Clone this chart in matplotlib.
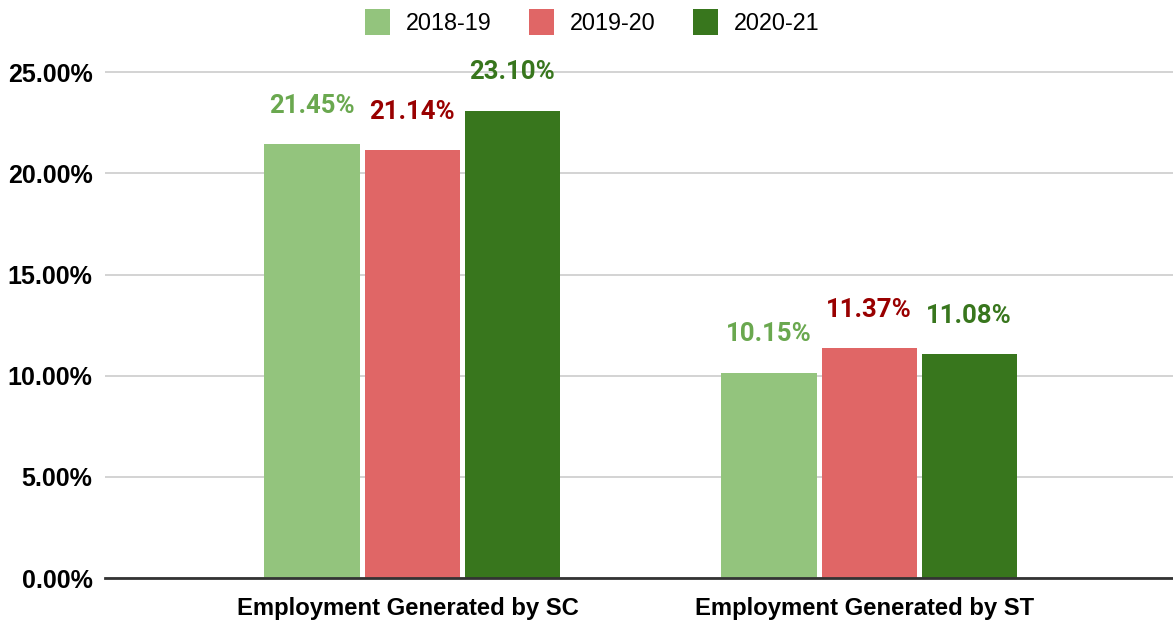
import numpy as np
import matplotlib.pyplot as plt
from matplotlib.ticker import PercentFormatter

plt.rcParams['font.family'] = ['Liberation Sans', 'DejaVu Sans']

categorias = ['Employment Generated by SC', 'Employment Generated by ST']
anios = ['2018-19', '2019-20', '2020-21']
valores = {
    '2018-19': [21.45, 10.15],
    '2019-20': [21.14, 11.37],
    '2020-21': [23.10, 11.08],
}
colores_barra = ['#93c47d', '#e06666', '#38761d']
colores_texto = ['#6aa84f', '#990000', '#38761d']

fig = plt.figure(figsize=(11.73, 6.23), dpi=100)
ax = fig.add_axes([105 / 1173, 45 / 623, 1068 / 1173, (578 - 40) / 623])

x = np.arange(len(categorias))
paso = 0.219
ancho = 0.208
for i, anio in enumerate(anios):
    pos = x + (i - 1) * paso
    ax.bar(pos, valores[anio], width=ancho, color=colores_barra[i],
           label=anio, zorder=3)
    for p, v in zip(pos, valores[anio]):
        ax.annotate(f'{v:.2f}%', (p, v), xytext=(0, 19), textcoords='offset points',
                    ha='center', va='bottom', fontsize=18.5, fontweight='bold',
                    family=['Roboto', 'DejaVu Sans'],
                    color=colores_texto[i], zorder=4)

ax.set_xlim(-0.672, 1.665)
ax.set_ylim(0, 26.6)
ax.set_yticks(np.arange(0, 26, 5))
ax.yaxis.set_major_formatter(PercentFormatter(decimals=2))
# las etiquetas quedan un poco a la izquierda del centro del grupo
ax.set_xticks(x - 0.01, labels=categorias)
ax.grid(axis='y', color='#cccccc', linewidth=1.2, zorder=0)
for s in ['top', 'right', 'left']:
    ax.spines[s].set_visible(False)
ax.spines['bottom'].set_color('#333333')
ax.spines['bottom'].set_linewidth(2)
ax.spines['bottom'].set_zorder(5)
ax.tick_params(axis='both', length=0, colors='#000000')
ax.tick_params(axis='y', pad=9, labelsize=18)
ax.tick_params(axis='x', pad=14, labelsize=17.2)
for t in ax.get_xticklabels() + ax.get_yticklabels():
    t.set_fontweight('bold')

fig.legend(loc='upper center', bbox_to_anchor=(0.505, 1.02), ncol=3, frameon=False,
           fontsize=16.8, handlelength=1.05, handleheight=1.4, columnspacing=1.6,
           handletextpad=0.7)

plt.savefig('out.png', dpi=100)
